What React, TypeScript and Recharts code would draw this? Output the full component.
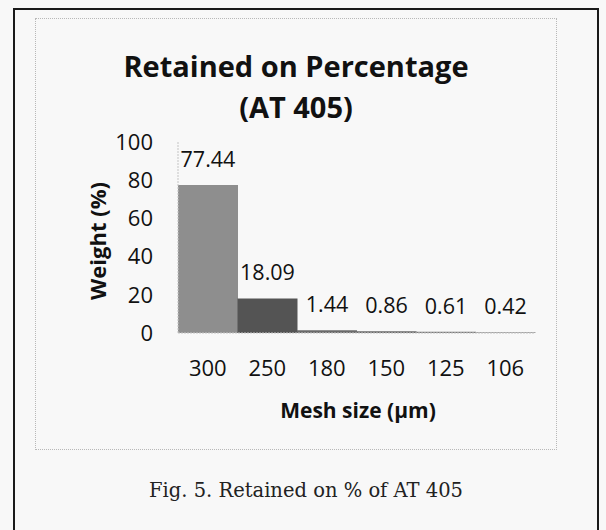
import React from "react";
import { BarChart, Bar, XAxis, YAxis, LabelList, Cell } from "recharts";

const meshSizes = ["300", "250", "180", "150", "125", "106"];
const weights = [77.44, 18.09, 1.44, 0.86, 0.61, 0.42];
const barColors = ["#8e8e8e", "#545454", "#6a6a6a", "#6a6a6a", "#7a7a7a", "#8a8a8a"];
const yTicks = [0, 20, 40, 60, 80, 100];

const data = meshSizes.map((m, i) => ({ mesh: m, weight: weights[i] }));

const font = "'Open Sans', sans-serif";

export default function App() {
  return (
    <div style={{ position: "fixed", left: 0, top: 0, width: 606, height: 530, background: "#f8f8f8", overflow: "hidden" }}>
      <div style={{ position: "absolute", left: 13, top: 8, width: 582, height: 560, border: "2.5px solid #1a1a1a" }} />
      <div style={{ position: "absolute", left: 35, top: 18, width: 520, height: 430, border: "1px dotted #b8b8b8" }} />
      <div style={{ position: "absolute", left: 0, top: 0 }}>
        <BarChart
          width={606}
          height={530}
          data={data}
          margin={{ top: 142, right: 71, bottom: 167, left: 0 }}
          barCategoryGap={0}
          style={{ fontFamily: font }}
        >
          <XAxis
            dataKey="mesh"
            height={30}
            tickLine={false}
            tickSize={0}
            tickMargin={27}
            axisLine={{ stroke: "#c4c4c4", strokeDasharray: "2 1" }}
            tick={{ fontSize: 22, fill: "#111", fontFamily: font }}
            interval={0}
          />
          <YAxis
            width={178}
            domain={[0, 100]}
            ticks={yTicks}
            tickLine={false}
            tickSize={0}
            tickMargin={25}
            axisLine={{ stroke: "#c4c4c4", strokeDasharray: "2 1" }}
            tick={{ fontSize: 22, fill: "#111", fontFamily: font }}
          />
          <Bar dataKey="weight" isAnimationActive={false}>
            {data.map((d, i) => (
              <Cell key={d.mesh} fill={barColors[i]} />
            ))}
            <LabelList
              dataKey="weight"
              position="top"
              offset={18}
              formatter={(v: number) => Number(v).toFixed(2)}
              style={{ fontSize: 21.5, fill: "#111", fontFamily: font }}
            />
          </Bar>
        </BarChart>
      </div>
      <div style={{ position: "absolute", left: 0, width: 592, top: 45, textAlign: "center", fontFamily: font, fontWeight: 700, fontSize: 29, lineHeight: "41px", color: "#111" }}>
        Retained on Percentage
        <br />
        (AT 405)
      </div>
      <div style={{ position: "absolute", left: 97, top: 241, width: 0, height: 0 }}>
        <div style={{ position: "absolute", left: -100, top: -15, width: 200, textAlign: "center", transform: "rotate(-90deg)", fontFamily: font, fontWeight: 700, fontSize: 22, lineHeight: "30px", color: "#111", whiteSpace: "nowrap" }}>
          Weight (%)
        </div>
      </div>
      <div style={{ position: "absolute", left: 258, width: 200, top: 395, textAlign: "center", fontFamily: font, fontWeight: 700, fontSize: 21, lineHeight: "30px", color: "#111", whiteSpace: "nowrap" }}>
        Mesh size (µm)
      </div>
      <div style={{ position: "absolute", left: 106, width: 400, top: 477, textAlign: "center", fontFamily: "'DejaVu Serif', serif", fontSize: 19.5, lineHeight: "28px", color: "#222", whiteSpace: "nowrap" }}>
        Fig. 5. Retained on % of AT 405
      </div>
    </div>
  );
}
